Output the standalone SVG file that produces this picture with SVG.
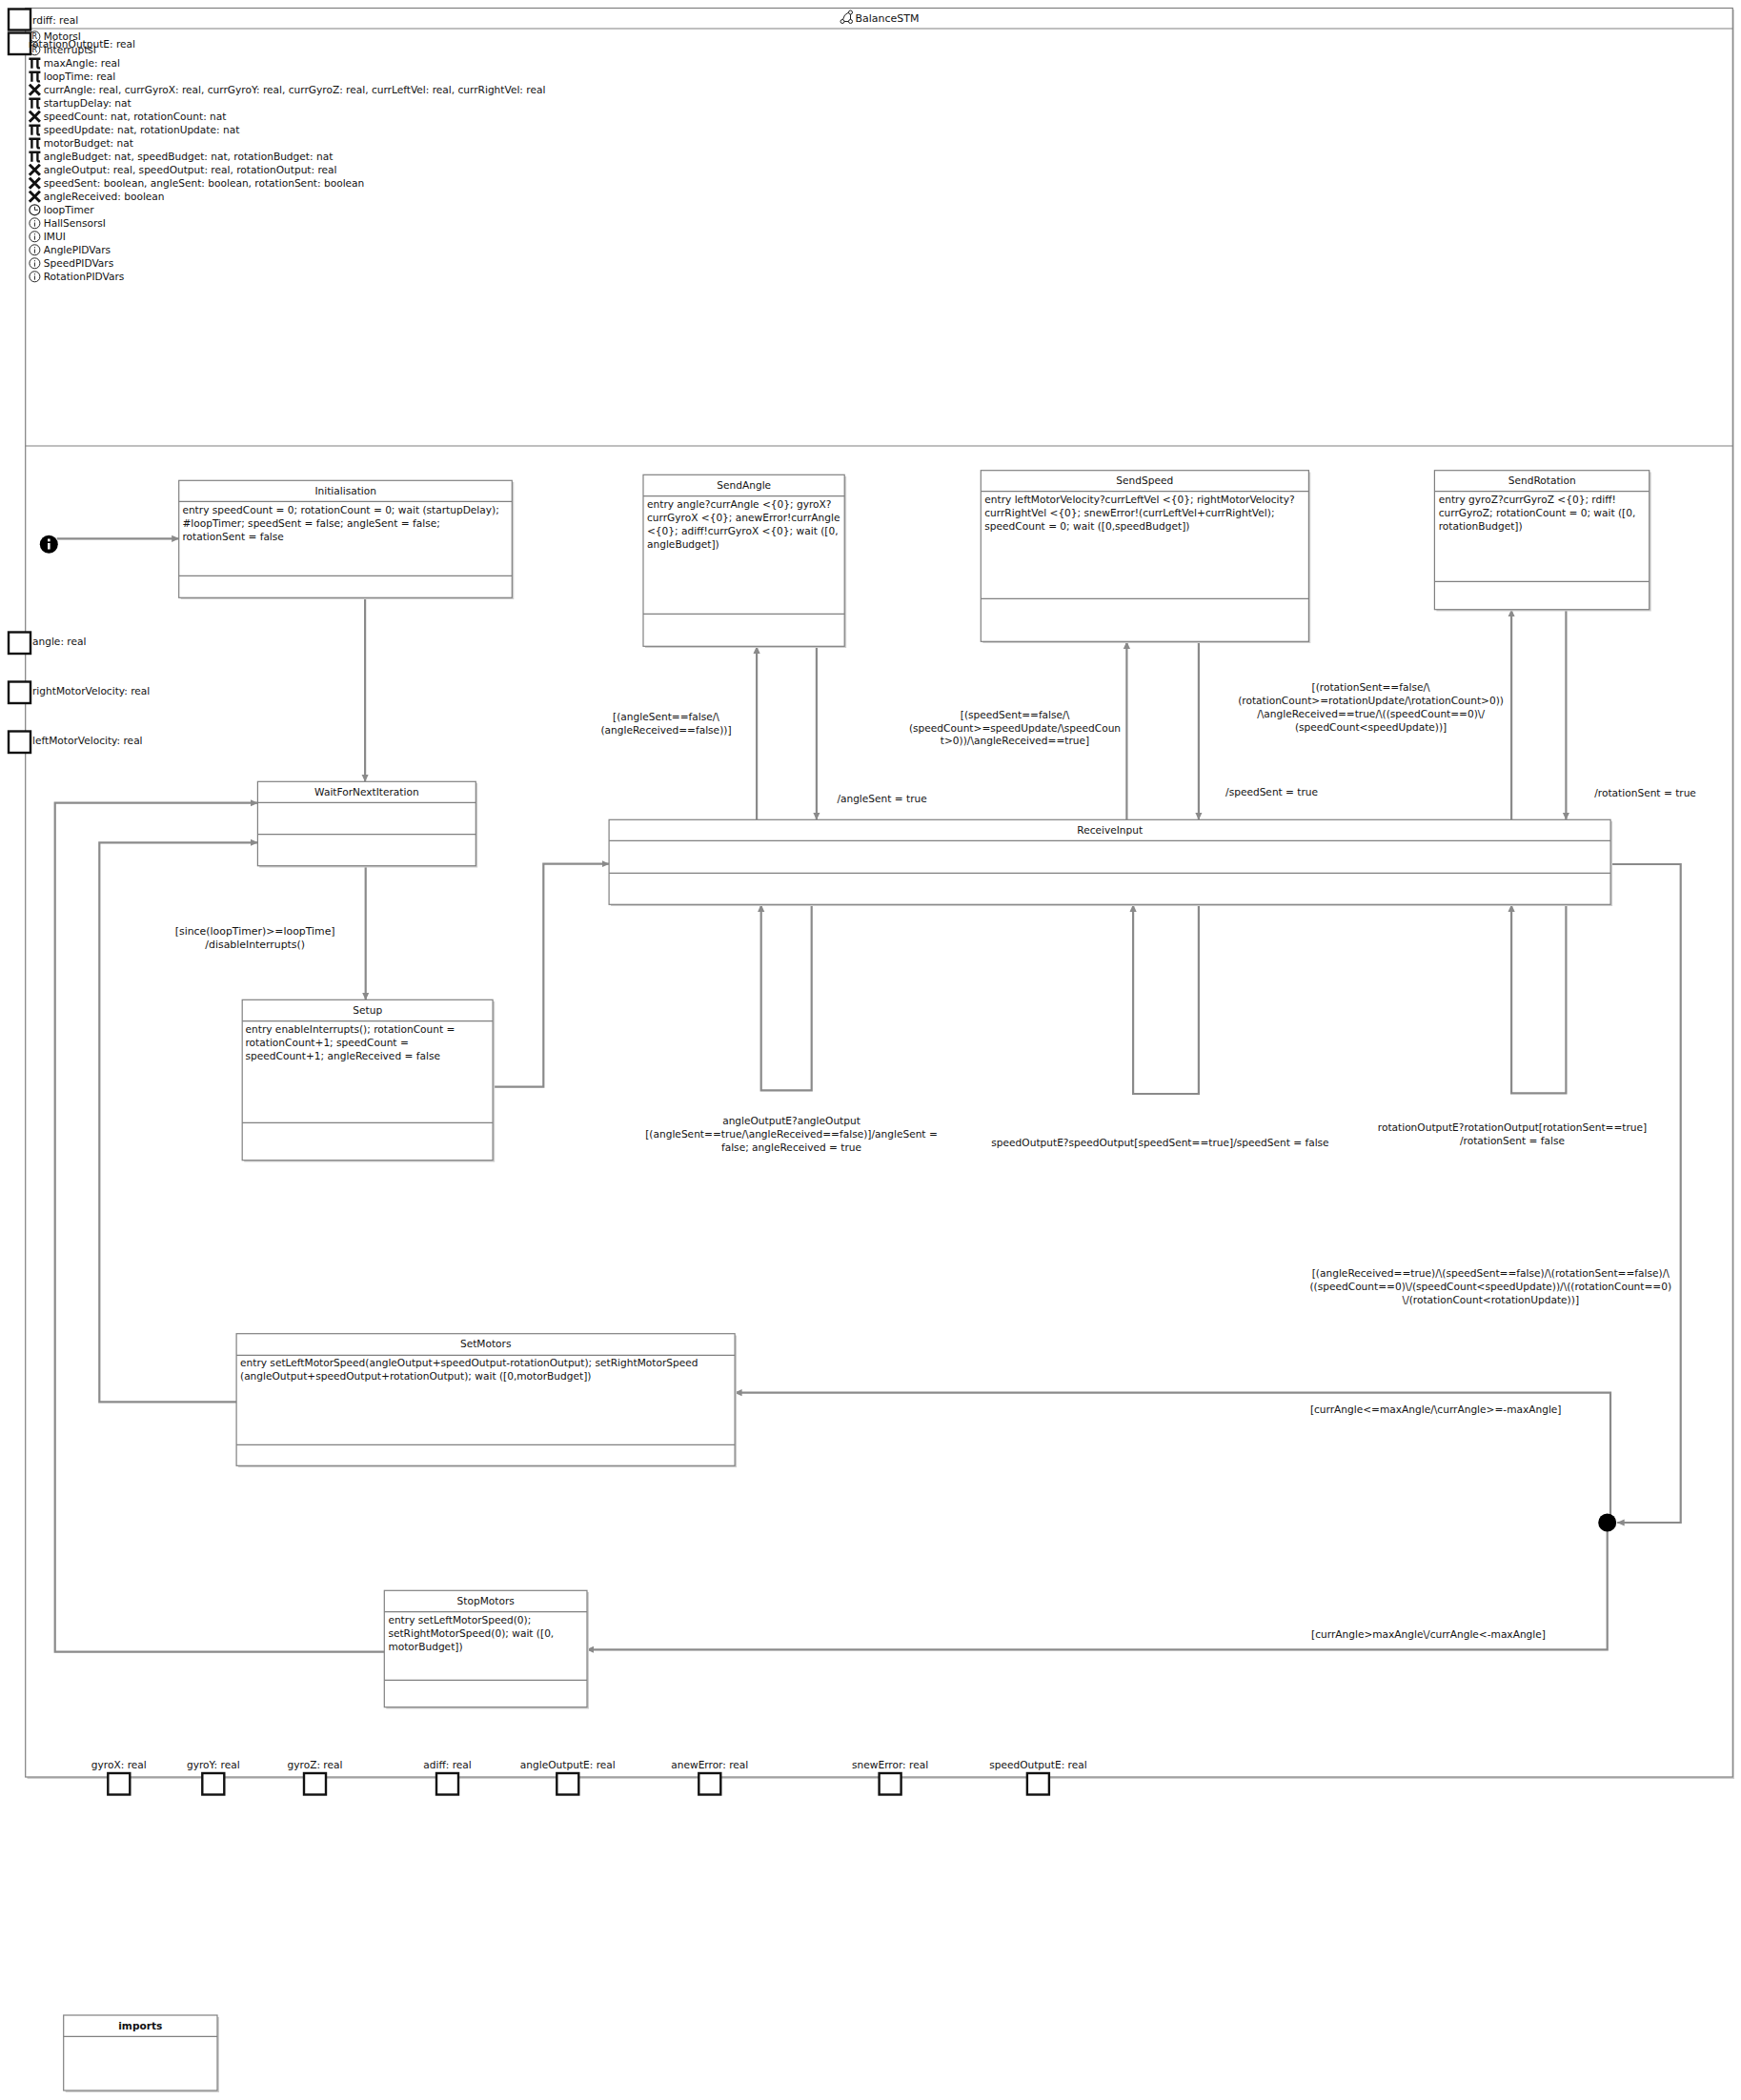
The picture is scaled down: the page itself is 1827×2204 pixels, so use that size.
<svg xmlns="http://www.w3.org/2000/svg" width="1827" height="2204" viewBox="0 0 1827 2204">
<style>
text{font-family:"DejaVu Sans",sans-serif;font-size:10.6px;fill:#111}
.c{text-anchor:middle}
.b{font-weight:bold}
.box{fill:#fff;stroke:#808080;stroke-width:1.2}
.sh{fill:#cfcfcf}
.sep{stroke:#808080;stroke-width:1.2;fill:none}
.port{fill:#fff;stroke:#111;stroke-width:2.4}
.con{fill:none;stroke:#8a8a8a;stroke-width:2.2}
.ic{fill:none;stroke:#222;stroke-width:1}
.ib{fill:none;stroke:#111;stroke-width:2.4}
</style>
<defs>
<marker id="ah" markerUnits="userSpaceOnUse" markerWidth="9" markerHeight="9" refX="7.5" refY="4" orient="auto"><path d="M0,0.4L8,4L0,7.6Z" fill="#8a8a8a"/></marker>
<symbol id="iR" overflow="visible"><circle cx="0" cy="0" r="5.500" class="ic"/><text x="0" y="3" class="c" style="font-size:8px">R</text></symbol>
<symbol id="iP" overflow="visible"><path d="M-6,-4.500H6M-3,-4.500V5.500M3,-4.500V4Q3,5.500 5.500,5" class="ib"/></symbol>
<symbol id="iX" overflow="visible"><path d="M-5.500,-5.500L5.500,5.500M5.500,-5.500L-5.500,5.500" class="ib" style="stroke-width:3"/></symbol>
<symbol id="iC" overflow="visible"><circle cx="0" cy="0" r="5.500" class="ic" style="stroke-width:1.200"/><path d="M0,-3.500V0H3.500" class="ic"/></symbol>
<symbol id="iI" overflow="visible"><circle cx="0" cy="0" r="5.500" class="ic"/><path d="M0,-3.200V-2M0,-0.800V3.400" class="ic"/></symbol>
</defs>

<g id="BalanceSTM">
<rect x="28.500" y="10" width="1791.500" height="1857" class="sh"/>
<rect x="26.700" y="8.500" width="1791.600" height="1856.500" class="box"/>
<path d="M26.700,30H1818.300M26.700,468H1818.300" class="sep"/>
<path d="M884.500,20.500Q885.500,15 890.500,13M886,22.500H890.500M892.500,15V20.500" fill="none" stroke="#222" stroke-width="1"/>
<circle cx="884" cy="22.500" r="2" fill="none" stroke="#222"/><circle cx="892.500" cy="22.500" r="2" fill="none" stroke="#222"/><circle cx="892.500" cy="13" r="2" fill="none" stroke="#222"/>
<text x="897.500" y="22.700" style="font-size:11px">BalanceSTM</text>
</g>

<g id="declarations">
<use href="#iR" x="36.400" y="38.300"/><text x="45.700" y="42">MotorsI</text>
<use href="#iR" x="36.400" y="52.300"/><text x="45.700" y="56">InterruptsI</text>
<use href="#iP" x="36.400" y="66.300"/><text x="45.700" y="70">maxAngle: real</text>
<use href="#iP" x="36.400" y="80.300"/><text x="45.700" y="84">loopTime: real</text>
<use href="#iX" x="36.400" y="94.300"/><text x="45.700" y="98">currAngle: real, currGyroX: real, currGyroY: real, currGyroZ: real, currLeftVel: real, currRightVel: real</text>
<use href="#iP" x="36.400" y="108.300"/><text x="45.700" y="112">startupDelay: nat</text>
<use href="#iX" x="36.400" y="122.300"/><text x="45.700" y="126">speedCount: nat, rotationCount: nat</text>
<use href="#iP" x="36.400" y="136.300"/><text x="45.700" y="140">speedUpdate: nat, rotationUpdate: nat</text>
<use href="#iP" x="36.400" y="150.300"/><text x="45.700" y="154">motorBudget: nat</text>
<use href="#iP" x="36.400" y="164.300"/><text x="45.700" y="168">angleBudget: nat, speedBudget: nat, rotationBudget: nat</text>
<use href="#iX" x="36.400" y="178.300"/><text x="45.700" y="182">angleOutput: real, speedOutput: real, rotationOutput: real</text>
<use href="#iX" x="36.400" y="192.300"/><text x="45.700" y="196">speedSent: boolean, angleSent: boolean, rotationSent: boolean</text>
<use href="#iX" x="36.400" y="206.300"/><text x="45.700" y="210">angleReceived: boolean</text>
<use href="#iC" x="36.400" y="220.300"/><text x="45.700" y="224">loopTimer</text>
<use href="#iI" x="36.400" y="234.300"/><text x="45.700" y="238">HallSensorsI</text>
<use href="#iI" x="36.400" y="248.300"/><text x="45.700" y="252">IMUI</text>
<use href="#iI" x="36.400" y="262.300"/><text x="45.700" y="266">AnglePIDVars</text>
<use href="#iI" x="36.400" y="276.300"/><text x="45.700" y="280">SpeedPIDVars</text>
<use href="#iI" x="36.400" y="290.300"/><text x="45.700" y="294">RotationPIDVars</text>
</g>

<g id="diagram" transform="translate(0.7 0)">
<g id="connectors">
<path class="con" marker-end="url(#ah)" d="M59,565.300H187"/>
<path class="con" marker-end="url(#ah)" d="M382.400,627.500V820.300"/>
<path class="con" marker-end="url(#ah)" d="M383,909V1049.300"/>
<path class="con" marker-end="url(#ah)" d="M516.400,1140.700H569.600V906.700H638.400"/>
<path class="con" marker-end="url(#ah)" d="M793.400,860.300V678.500"/>
<path class="con" marker-end="url(#ah)" d="M856.200,678.500V860.300"/>
<path class="con" marker-end="url(#ah)" d="M1181.700,860.300V673.500"/>
<path class="con" marker-end="url(#ah)" d="M1257.200,673.500V860.300"/>
<path class="con" marker-end="url(#ah)" d="M1585.400,860.300V639.800"/>
<path class="con" marker-end="url(#ah)" d="M1642.700,639.800V860.300"/>
<path class="con" marker-end="url(#ah)" d="M851,949.500V1144.300H798V949.500"/>
<path class="con" marker-end="url(#ah)" d="M1257.200,949.500V1148H1188.400V949.500"/>
<path class="con" marker-end="url(#ah)" d="M1642.700,949.500V1147.300H1585.400V949.500"/>
<path class="con" marker-end="url(#ah)" d="M1689.400,907H1763V1598H1696.500"/>
<path class="con" marker-end="url(#ah)" d="M1689.300,1590V1461.700H770.400"/>
<path class="con" marker-end="url(#ah)" d="M1686,1606V1731.300H615"/>
<path class="con" marker-end="url(#ah)" d="M247.400,1471.300H103.600V884.300H269.700"/>
<path class="con" marker-end="url(#ah)" d="M402.600,1733.700H57V842.700H269.700"/>
</g>

<g id="initial"><circle cx="50.600" cy="571.300" r="9.500" fill="#000"/><rect x="49.300" y="570" width="2.600" height="6.500" fill="#fff"/><rect x="49.300" y="565.500" width="2.600" height="2.800" fill="#fff"/></g>
<g id="junction"><circle cx="1686" cy="1598" r="9.500" fill="#000"/></g>

<g id="Initialisation">
<rect x="189" y="506" width="349.600" height="123" class="sh"/><rect x="187" y="504.300" width="349.600" height="123" class="box"/>
<path d="M187,526.300H536.600M187,604.300H536.600" class="sep"/>
<text x="362" y="519" class="c">Initialisation</text>
<text x="190.700" y="539">entry speedCount = 0; rotationCount = 0; wait (startupDelay);</text>
<text x="190.700" y="553">#loopTimer; speedSent = false; angleSent = false;</text>
<text x="190.700" y="567">rotationSent = false</text>
</g>

<g id="WaitForNextIteration">
<rect x="271.500" y="822" width="229" height="88.500" class="sh"/><rect x="269.700" y="820.300" width="228.900" height="88.400" class="box"/>
<path d="M269.700,842.300H498.600M269.700,875.700H498.600" class="sep"/>
<text x="384.200" y="835" class="c">WaitForNextIteration</text>
</g>

<g id="Setup">
<rect x="255.500" y="1051" width="263" height="168.500" class="sh"/><rect x="253.500" y="1049.300" width="262.900" height="168.400" class="box"/>
<path d="M253.500,1071.700H516.400M253.500,1178.300H516.400" class="sep"/>
<text x="385" y="1064" class="c">Setup</text>
<text x="256.800" y="1084">entry enableInterrupts(); rotationCount =</text>
<text x="256.800" y="1098">rotationCount+1; speedCount =</text>
<text x="256.800" y="1112">speedCount+1; angleReceived = false</text>
</g>

<g id="ReceiveInput">
<rect x="640.400" y="862" width="1051" height="89" class="sh"/><rect x="638.400" y="860.300" width="1051" height="89" class="box"/>
<path d="M638.400,882.300H1689.400M638.400,916.300H1689.400" class="sep"/>
<text x="1164" y="875" class="c">ReceiveInput</text>
</g>

<g id="SendAngle">
<rect x="676.300" y="500" width="211.200" height="180" class="sh"/><rect x="674.300" y="498.300" width="211.200" height="180" class="box"/>
<path d="M674.300,520.700H885.500M674.300,644.300H885.500" class="sep"/>
<text x="780" y="513" class="c">SendAngle</text>
<text x="678.300" y="533">entry angle?currAngle &lt;{0}; gyroX?</text>
<text x="678.300" y="547">currGyroX &lt;{0}; anewError!currAngle</text>
<text x="678.300" y="561">&lt;{0}; adiff!currGyroX &lt;{0}; wait ([0,</text>
<text x="678.300" y="575">angleBudget])</text>
</g>

<g id="SendSpeed">
<rect x="1030.600" y="495.500" width="344" height="179.500" class="sh"/><rect x="1028.600" y="493.700" width="344.100" height="179.600" class="box"/>
<path d="M1028.600,515.700H1372.700M1028.600,628.300H1372.700" class="sep"/>
<text x="1200.600" y="508" class="c">SendSpeed</text>
<text x="1032.600" y="528">entry leftMotorVelocity?currLeftVel &lt;{0}; rightMotorVelocity?</text>
<text x="1032.600" y="542">currRightVel &lt;{0}; snewError!(currLeftVel+currRightVel);</text>
<text x="1032.600" y="556">speedCount = 0; wait ([0,speedBudget])</text>
</g>

<g id="SendRotation">
<rect x="1506.700" y="495.500" width="225.300" height="146" class="sh"/><rect x="1504.700" y="493.700" width="225.300" height="146" class="box"/>
<path d="M1504.700,515.700H1730M1504.700,610.300H1730" class="sep"/>
<text x="1617.500" y="508" class="c">SendRotation</text>
<text x="1509" y="528">entry gyroZ?currGyroZ &lt;{0}; rdiff!</text>
<text x="1509" y="542">currGyroZ; rotationCount = 0; wait ([0,</text>
<text x="1509" y="556">rotationBudget])</text>
</g>

<g id="SetMotors">
<rect x="249.400" y="1401.500" width="523" height="138.600" class="sh"/><rect x="247.400" y="1399.700" width="523" height="138.600" class="box"/>
<path d="M247.400,1422.300H770.400M247.400,1516.300H770.400" class="sep"/>
<text x="509" y="1413.500" class="c">SetMotors</text>
<text x="251.300" y="1433.500">entry setLeftMotorSpeed(angleOutput+speedOutput-rotationOutput); setRightMotorSpeed</text>
<text x="251.300" y="1447.500">(angleOutput+speedOutput+rotationOutput); wait ([0,motorBudget])</text>
</g>

<g id="StopMotors">
<rect x="404.600" y="1671" width="212.700" height="122.500" class="sh"/><rect x="402.600" y="1669.300" width="212.700" height="122.400" class="box"/>
<path d="M402.600,1691.700H615.300M402.600,1763.300H615.300" class="sep"/>
<text x="509" y="1683.500" class="c">StopMotors</text>
<text x="406.700" y="1703.500">entry setLeftMotorSpeed(0);</text>
<text x="406.700" y="1717.500">setRightMotorSpeed(0); wait ([0,</text>
<text x="406.700" y="1731.500">motorBudget])</text>
</g>
</g>

<g id="imports">
<rect x="68.700" y="2117" width="161.300" height="79" class="sh"/><rect x="66.700" y="2115" width="161.300" height="79" class="box"/>
<path d="M66.700,2137.300H228" class="sep"/>
<text x="147.300" y="2130" class="c b">imports</text>
</g>

<g id="labels">
<text class="c" x="699" y="756">[(angleSent==false/\</text>
<text class="c" x="699" y="770">(angleReceived==false))]</text>
<text class="c" x="925.600" y="842">/angleSent = true</text>
<text class="c" x="1065" y="754">[(speedSent==false/\</text>
<text class="c" x="1065" y="768">(speedCount&gt;=speedUpdate/\speedCoun</text>
<text class="c" x="1065" y="781">t&gt;0))/\angleReceived==true]</text>
<text class="c" x="1334.600" y="835">/speedSent = true</text>
<text class="c" x="1438.600" y="724.500">[(rotationSent==false/\</text>
<text class="c" x="1438.600" y="738.500">(rotationCount&gt;=rotationUpdate/\rotationCount&gt;0))</text>
<text class="c" x="1438.600" y="752.500">/\angleReceived==true/\((speedCount==0)\/</text>
<text class="c" x="1438.600" y="766.500">(speedCount&lt;speedUpdate))]</text>
<text class="c" x="1726.600" y="835.500">/rotationSent = true</text>
<text class="c" x="267.700" y="981.300" style="font-size:10.9px">[since(loopTimer)&gt;=loopTime]</text>
<text class="c" x="267.700" y="994.500" style="font-size:10.9px">/disableInterrupts()</text>
<text class="c" x="830.500" y="1180">angleOutputE?angleOutput</text>
<text class="c" x="830.500" y="1194">[(angleSent==true/\angleReceived==false)]/angleSent =</text>
<text class="c" x="830.500" y="1208">false; angleReceived = true</text>
<text class="c" x="1217.500" y="1203">speedOutputE?speedOutput[speedSent==true]/speedSent = false</text>
<text class="c" x="1587" y="1187">rotationOutputE?rotationOutput[rotationSent==true]</text>
<text class="c" x="1587" y="1201">/rotationSent = false</text>
<text class="c" x="1564.300" y="1340.300">[(angleReceived==true)/\(speedSent==false)/\(rotationSent==false)/\</text>
<text class="c" x="1564.300" y="1354.300">((speedCount==0)\/(speedCount&lt;speedUpdate))/\((rotationCount==0)</text>
<text class="c" x="1564.300" y="1368.300">\/(rotationCount&lt;rotationUpdate))]</text>
<text class="c" x="1506.700" y="1483.300">[currAngle&lt;=maxAngle/\currAngle&gt;=-maxAngle]</text>
<text class="c" x="1499" y="1719">[currAngle&gt;maxAngle\/currAngle&lt;-maxAngle]</text>
</g>

<g id="ports">
<g id="p-rdiff"><rect x="9" y="9.500" width="23" height="22" class="port"/><text x="34" y="25">rdiff: real</text></g>
<g id="p-rotationOutputE"><rect x="9" y="34.500" width="23" height="22.500" class="port"/><text x="30" y="50">rotationOutputE: real</text></g>
<g id="p-angle"><rect x="9" y="663.500" width="23" height="22.500" class="port"/><text x="34" y="677">angle: real</text></g>
<g id="p-right"><rect x="9" y="715.500" width="23" height="22.500" class="port"/><text x="34" y="729">rightMotorVelocity: real</text></g>
<g id="p-left"><rect x="9" y="767.500" width="23" height="22.500" class="port"/><text x="34" y="781">leftMotorVelocity: real</text></g>
<g id="p-gyroX"><rect x="113.300" y="1861" width="23" height="22.500" class="port"/><text class="c" x="124.800" y="1855.700">gyroX: real</text></g>
<g id="p-gyroY"><rect x="212.300" y="1861" width="23" height="22.500" class="port"/><text class="c" x="223.800" y="1855.700">gyroY: real</text></g>
<g id="p-gyroZ"><rect x="319" y="1861" width="23" height="22.500" class="port"/><text class="c" x="330.500" y="1855.700">gyroZ: real</text></g>
<g id="p-adiff"><rect x="458" y="1861" width="23" height="22.500" class="port"/><text class="c" x="469.500" y="1855.700">adiff: real</text></g>
<g id="p-angleOutputE"><rect x="584.300" y="1861" width="23" height="22.500" class="port"/><text class="c" x="595.800" y="1855.700">angleOutputE: real</text></g>
<g id="p-anewError"><rect x="733.300" y="1861" width="23" height="22.500" class="port"/><text class="c" x="744.800" y="1855.700">anewError: real</text></g>
<g id="p-snewError"><rect x="922.600" y="1861" width="23" height="22.500" class="port"/><text class="c" x="934.100" y="1855.700">snewError: real</text></g>
<g id="p-speedOutputE"><rect x="1077.900" y="1861" width="23" height="22.500" class="port"/><text class="c" x="1089.400" y="1855.700">speedOutputE: real</text></g>
</g>
</svg>
